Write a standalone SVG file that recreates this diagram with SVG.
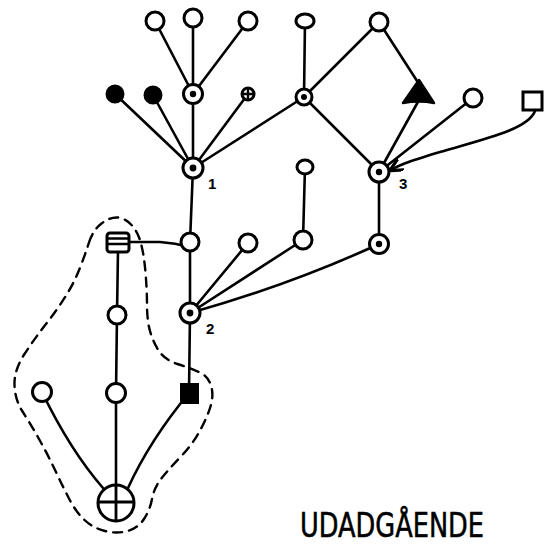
<svg xmlns="http://www.w3.org/2000/svg" width="549" height="552" viewBox="0 0 549 552">
<defs>
<style>
.e{fill:none;stroke:#000;stroke-width:2.6;stroke-linecap:round;stroke-linejoin:round}
.o{fill:#fff;stroke:#000;stroke-width:3}
.f{fill:#000;stroke:#000;stroke-width:2}
.d{fill:#000}
.lbl{font-family:"Liberation Sans",Arial,sans-serif;font-weight:bold;font-size:15px;fill:#000}
.dash{fill:none;stroke:#000;stroke-width:2.4;stroke-dasharray:9 7;stroke-linecap:round}
</style>
<marker id="ah" viewBox="0 0 10 10" refX="9" refY="5" markerWidth="5" markerHeight="5" orient="auto">
<path d="M0,0 L10,5 L0,10" fill="none" stroke="#000" stroke-width="2.5"/>
</marker>
</defs>
<rect width="549" height="552" fill="#fff"/>

<g id="outline">
<path class="dash" d="M89,242.5 Q93,230 101.5,223.5 Q110,217 117.5,217.5 Q125,218 131.5,225 Q138,232 141,243.5 Q144,255 145.5,272.5 Q147,290 147,305 Q147,320 150,331 Q153,342 159,351 Q165,360 177.5,364 Q190,368 199,372 Q208,376 211,385.5 Q214,395 210.5,406.5 Q207,418 199.5,431.5 Q192,445 180,457.5 Q168,470 161,479 Q154,488 152,499 Q150,510 144,519 Q138,528 127.5,531 Q117,534 105,531 Q93,528 84.5,520 Q76,512 69.5,499.5 Q63,487 55.5,471 Q48,455 39,439 Q30,423 22.5,411.5 Q15,400 14.5,385 Q14,370 24.5,354 Q35,338 46,324 Q57,310 65.5,296.5 Q74,283 79.5,269 Q85,255 89,242.5 Z"/>
</g>

<g id="connectors">
<path class="e" d="M155,21 L193,94"/>
<path class="e" d="M193,18 L193,94"/>
<path class="e" d="M248,21 L193,94"/>
<path class="e" d="M193,94 L193,168"/>
<path class="e" d="M115,94 L193,168"/>
<path class="e" d="M153,95 L193,168"/>
<path class="e" d="M248,94 L193,168"/>
<path class="e" d="M304,97 L193,168"/>
<path class="e" d="M305,21 L304,97"/>
<path class="e" d="M304,97 L379,22"/>
<path class="e" d="M379,22 L419,84"/>
<path class="e" d="M419,100 L379,172"/>
<path class="e" d="M304,97 L379,172"/>
<path class="e" d="M473,98 L379,172"/>
<path class="e" d="M535,111 C528,130 480,140 440,152 S398,166 391,170" marker-end="url(#ah)"/>
<path class="e" d="M379,172 L379,244"/>
<path class="e" d="M305,167 L303,240"/>
<path class="e" d="M193,168 L190,242"/>
<path class="e" d="M130,242 L160,242 Q175,243 190,247"/>
<path class="e" d="M190,242 L190,313"/>
<path class="e" d="M248,243 L190,313"/>
<path class="e" d="M303,240 L190,313"/>
<path class="e" d="M379,244 Q290,285 190,313"/>
<path class="e" d="M190,313 L189,393"/>
<path class="e" d="M118,250 L117,315"/>
<path class="e" d="M117,315 L116,393"/>
<path class="e" d="M116,393 L116,521"/>
<path class="e" d="M42,392 Q70,450 103,488"/>
<path class="e" d="M189,393 Q150,440 128,488"/>
</g>

<g id="t1"><circle class="o" cx="155" cy="21" r="9"/></g>
<g id="t2"><circle class="o" cx="193" cy="18" r="9"/></g>
<g id="t3"><circle class="o" cx="248" cy="21" r="9"/></g>
<g id="f1"><circle class="f" cx="115" cy="94" r="8.5"/></g>
<g id="f2"><circle class="f" cx="153" cy="95" r="8.5"/></g>
<g id="a"><circle class="o" cx="193" cy="94" r="9.5"/><circle class="d" cx="193" cy="94" r="3.2"/></g>
<g id="c"><circle class="o" cx="248" cy="94" r="6" stroke-width="3.2"/><path d="M242,94 H254 M248,88 V100" stroke="#000" stroke-width="2.4"/></g>
<g id="n1"><circle class="o" cx="193" cy="168" r="10"/><circle class="d" cx="193" cy="168" r="3.4"/><text class="lbl" x="208" y="189">1</text></g>
<g id="t4"><ellipse class="o" cx="305" cy="21" rx="9" ry="7"/></g>
<g id="t5"><circle class="o" cx="379" cy="22" r="9"/></g>
<g id="b"><circle class="o" cx="304" cy="97" r="8"/><circle class="d" cx="304" cy="97" r="3"/></g>
<g id="tri"><path d="M419,80 L434,103 Q419,100 403,103 Z" fill="#000" stroke="#000" stroke-width="2.5" stroke-linejoin="round"/></g>
<g id="t6"><circle class="o" cx="473" cy="98" r="9"/></g>
<g id="sq"><rect class="o" x="523" y="92" width="19" height="18"/></g>
<g id="n3"><circle class="o" cx="379" cy="172" r="10"/><circle class="d" cx="379" cy="172" r="3.2"/><text class="lbl" x="399" y="189">3</text></g>
<g id="c2"><ellipse class="o" cx="305" cy="167" rx="8" ry="7"/></g>
<g id="c3"><circle class="o" cx="303" cy="240" r="9"/></g>
<g id="d"><circle class="o" cx="379" cy="244" r="9.5"/><circle class="d" cx="379" cy="244" r="3.2"/></g>
<g id="c4"><circle class="o" cx="248" cy="243" r="9"/></g>
<g id="c5"><circle class="o" cx="190" cy="242" r="9"/></g>
<g id="box"><rect class="o" x="107" y="233" width="22" height="19" rx="3"/><path d="M107,238.5 H129 M107,244 H129" stroke="#000" stroke-width="2.6"/></g>
<g id="n2"><circle class="o" cx="190" cy="313" r="10"/><circle class="d" cx="190" cy="313" r="3.4"/><text class="lbl" x="206" y="334">2</text></g>
<g id="c6"><circle class="o" cx="117" cy="315" r="9"/></g>
<g id="c7"><circle class="o" cx="116" cy="393" r="9.5"/></g>
<g id="c8"><circle class="o" cx="42" cy="392" r="9.5"/></g>
<g id="fsq"><rect class="f" x="181" y="384" width="17" height="19"/></g>
<g id="big"><circle class="o" cx="116" cy="503" r="18"/><path d="M98,502 H134 M116,485 V521" stroke="#000" stroke-width="2.8"/></g>

<g id="title"><text x="300" y="537" font-family="'DejaVu Sans',sans-serif" font-size="34" textLength="184" lengthAdjust="spacingAndGlyphs" fill="#000" stroke="#000" stroke-width="0.6">UDADGÅENDE</text></g>
</svg>
